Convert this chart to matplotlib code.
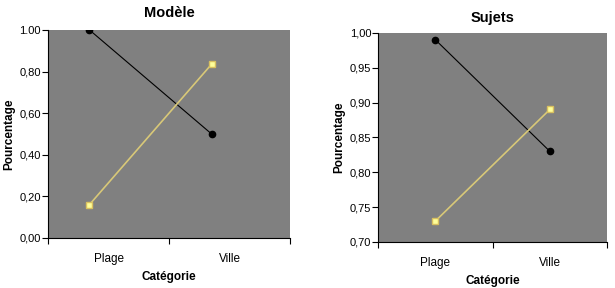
import numpy as np
import matplotlib.pyplot as plt

plt.rcParams['font.family'] = ['Liberation Sans', 'DejaVu Sans']

categories = ['Plage', 'Ville']

modele_noir = [1.00, 0.50]
modele_jaune = [0.16, 0.835]
modele_yticks = [0.0, 0.2, 0.4, 0.6, 0.8, 1.0]
modele_ylabels = ['0,00', '0,20', '0,40', '0,60', '0,80', '1.00']

sujets_noir = [0.99, 0.83]
sujets_jaune = [0.73, 0.89]
sujets_yticks = [0.70, 0.75, 0.80, 0.85, 0.90, 0.95, 1.00]
sujets_ylabels = ['0,70', '0,75', '0,80', '0,85', '0,90', '0,95', '1,00']

fig = plt.figure(figsize=(6.15, 2.88), dpi=100)
ax1 = fig.add_axes([0.078, 0.174, 0.394, 0.722])
ax2 = fig.add_axes([0.615, 0.160, 0.372, 0.726])


def draw(ax, black, yellow, title, yticks, ylabels, xlim, titlepad, lpad):
    x = np.arange(len(categories)) + 0.5
    ax.set_facecolor('#808080')
    ax.plot(x, black, color='black', lw=0.8, marker='o', ms=4.5, zorder=3)
    ax.plot(x, yellow, color='#d8c878', lw=1.2, marker='s', ms=5,
            mfc='#ffff99', mec='#d8c060', zorder=3)
    ax.set_xlim(*xlim)
    ax.set_ylim(yticks[0], yticks[-1])
    ax.set_yticks(yticks)
    ax.set_yticklabels(ylabels)
    # category separators at the edges and middle, names centred between them
    sep = np.linspace(xlim[0], xlim[1], 3)
    ax.set_xticks(sep)
    ax.set_xticklabels([])
    ax.set_xticks((sep[:-1] + sep[1:]) / 2, minor=True)
    ax.set_xticklabels(categories, minor=True)
    ax.tick_params(axis='x', which='minor', length=0, pad=lpad, labelsize=8.5)
    ax.tick_params(axis='x', which='major', length=4, direction='out')
    ax.tick_params(axis='y', length=4, pad=1, labelsize=8)
    for s in ['top', 'right']:
        ax.spines[s].set_visible(False)
    ax.set_title(title, fontsize=10.5, fontweight='bold', pad=titlepad)
    ax.set_xlabel('Catégorie', fontsize=8.5, fontweight='bold', labelpad=4)
    ax.set_ylabel('Pourcentage', fontsize=8.5, fontweight='bold', labelpad=3)


draw(ax1, modele_noir, modele_jaune, 'Modèle', modele_yticks, modele_ylabels,
     (0.16, 2.145), 9.5, 11)
draw(ax2, sujets_noir, sujets_jaune, 'Sujets', sujets_yticks, sujets_ylabels,
     (0, 2), 8, 11)

fig.savefig('out.png', dpi=100)
